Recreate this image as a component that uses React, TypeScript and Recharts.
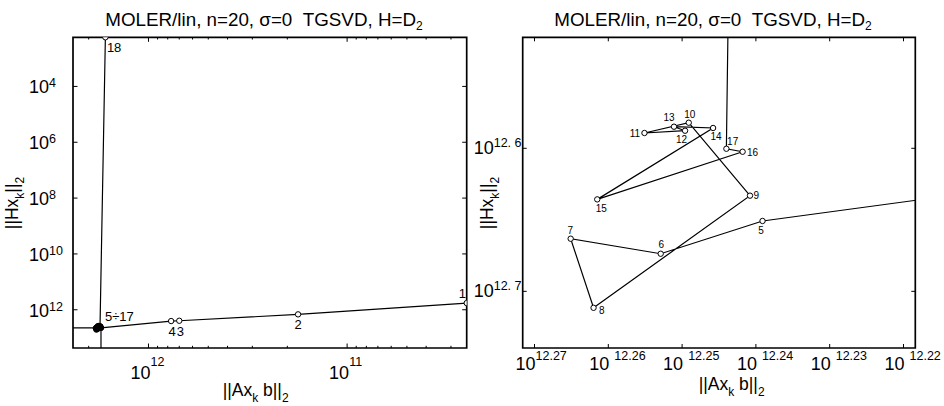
import React from 'react';
import { ComposedChart, Line, XAxis, YAxis, ReferenceArea } from 'recharts';

const FONT = '"Liberation Sans", Arial, Helvetica, sans-serif';

// TGSVD truncation index k
const kValues = [1, 2, 3, 4, 5, 6, 7, 8, 9, 10, 11, 12, 13, 14, 15, 16, 17, 18];
// log10 ||A x_k - b||_2
const residualExp = [
  10.398, 11.247, 11.845, 11.886, 12.2391, 12.2529, 12.2651, 12.262, 12.2408,
  12.2491, 12.2551, 12.2496, 12.2511, 12.2458, 12.2615, 12.2418, 12.244, 12.217,
];
// log10 ||H x_k||_2
const seminormExp = [
  11.76, 12.165, 12.394, 12.405, 12.6508, 12.6737, 12.6632, 12.7115, 12.6331,
  12.5821, 12.5893, 12.5877, 12.5849, 12.5858, 12.6357, 12.6024, 12.6003, 2.24,
];
// L-curve corner
const cornerK = 5;

// axis ranges, log10
const leftXRange = [10.398, 12.38];
const leftYRange = [2.24, 13.37];
const rightXRange = [12.2184, 12.2716];
const rightYRange = [12.5224, 12.7396];

// tick exponents / labels
const leftXMajorExp = [11, 12];
const leftXMinorMantissa = [2, 3, 4, 5, 6, 7, 8, 9];
const leftXMinorDecades = [10, 11, 12];
const leftYTickExp = [4, 6, 8, 10, 12];
const rightXTickExp = [12.27, 12.26, 12.25, 12.24, 12.23, 12.22];
const rightXTickBase = ['10', '10\u00a0', '10\u00a0', '10\u00a0', '10\u00a0', '10\u00a0'];
const rightXTickSup = ['12.27', '12.26', '12.25', '12.24', '12.23', '12.22'];
const rightYTickExp = [12.6, 12.7];
const rightYTickSup = ['12.\u00a06', '12.\u00a07'];

const titleMain = 'MOLER/lin, n=20, \u03c3=0 \u00a0TGSVD, H=D';

// label placement (style only)
type Lab = { text: string; dx: number; dy: number; anchor: 'start' | 'middle' | 'end' };
const leftLabels: Record<number, Lab> = {
  1: { text: '1', dx: -8, dy: -5, anchor: 'start' },
  2: { text: '2', dx: 0, dy: 15, anchor: 'middle' },
  3: { text: '3', dx: 1, dy: 15, anchor: 'middle' },
  4: { text: '4', dx: 1, dy: 15, anchor: 'middle' },
  5: { text: '5\u00f717', dx: 4, dy: -7, anchor: 'start' },
  18: { text: '18', dx: 1.5, dy: 15, anchor: 'start' },
};
const rightLabels: Record<number, Lab> = {
  5: { text: '5', dx: -1.5, dy: 13, anchor: 'middle' },
  6: { text: '6', dx: 0.7, dy: -5.5, anchor: 'middle' },
  7: { text: '7', dx: -0.3, dy: -5, anchor: 'middle' },
  8: { text: '8', dx: 5.4, dy: 6, anchor: 'start' },
  9: { text: '9', dx: 3.4, dy: 3.3, anchor: 'start' },
  10: { text: '10', dx: 1, dy: -5, anchor: 'middle' },
  11: { text: '11', dx: -4.4, dy: 3.7, anchor: 'end' },
  12: { text: '12', dx: -3.5, dy: 12, anchor: 'middle' },
  13: { text: '13', dx: -5, dy: -6, anchor: 'middle' },
  14: { text: '14', dx: 3, dy: 12, anchor: 'middle' },
  15: { text: '15', dx: 4, dy: 13, anchor: 'middle' },
  16: { text: '16', dx: 4.3, dy: 4.3, anchor: 'start' },
  17: { text: '17', dx: 0.7, dy: -3.7, anchor: 'start' },
};

const pow10 = (e: number) => Math.pow(10, e);
const points = kValues.map((k, i) => ({ k, x: pow10(residualExp[i]), y: pow10(seminormExp[i]) }));
const ci = kValues.indexOf(cornerK);
// corner marker: from left edge to the corner, then down to the bottom edge
const cornerLine = [
  { x: pow10(leftXRange[1]), y: pow10(seminormExp[ci]) },
  { x: pow10(residualExp[ci]), y: pow10(seminormExp[ci]) },
  { x: pow10(residualExp[ci]), y: pow10(leftYRange[1]) },
];

const leftXTicks = [
  ...leftXMajorExp.map(pow10),
  ...leftXMinorDecades.flatMap((d) => leftXMinorMantissa.map((m) => m * pow10(d))),
].filter((v) => Math.log10(v) >= leftXRange[0] && Math.log10(v) <= leftXRange[1]);

const CW = 472;
const CH = 406;
const PT = 37.3;
const PB = 348;
const leftPlot = { left: 73, right: 466.7 };
const rightPlot = { left: 50.7, right: 443.3 };
const SUP = 12.5;

const isMajor = (v: number) => Math.abs(Math.log10(v) - Math.round(Math.log10(v))) < 1e-6;

const LeftXTick = (p: any) => {
  const { x, payload } = p;
  const v = payload.value;
  const major = isMajor(v);
  const len = major ? 4.5 : 2.2;
  return (
    <g>
      <line x1={x} x2={x} y1={PB} y2={PB - len} stroke="#000" strokeWidth={1} />
      <line x1={x} x2={x} y1={PT} y2={PT + len} stroke="#000" strokeWidth={1} />
      {major && (
        <text x={x - 18} y={379} fontSize={18} fontFamily={FONT} fill="#000">
          10
          <tspan dy={-13} fontSize={SUP}>{Math.round(Math.log10(v))}</tspan>
        </text>
      )}
    </g>
  );
};

const LeftYTick = (p: any) => {
  const { y, payload } = p;
  const e = Math.round(Math.log10(payload.value));
  return (
    <g>
      <line x1={leftPlot.left} x2={leftPlot.left + 4.5} y1={y} y2={y} stroke="#000" strokeWidth={1} />
      <line x1={leftPlot.right} x2={leftPlot.right - 4.5} y1={y} y2={y} stroke="#000" strokeWidth={1} />
      <text x={29} y={y + 7} fontSize={18} fontFamily={FONT} fill="#000">
        10
        <tspan dy={-6} fontSize={SUP}>{e}</tspan>
      </text>
    </g>
  );
};

const RightXTick = (p: any) => {
  const { x, index } = p;
  return (
    <g>
      <line x1={x} x2={x} y1={PB} y2={PB - 4} stroke="#000" strokeWidth={1} />
      <line x1={x} x2={x} y1={PT} y2={PT + 4} stroke="#000" strokeWidth={1} />
      <text x={x - 19} y={370} fontSize={18} fontFamily={FONT} fill="#000">
        {rightXTickBase[index]}
        <tspan dy={-10} fontSize={SUP}>{rightXTickSup[index]}</tspan>
      </text>
    </g>
  );
};

const RightYTick = (p: any) => {
  const { y, index } = p;
  return (
    <g>
      <line x1={rightPlot.left} x2={rightPlot.left + 4} y1={y} y2={y} stroke="#000" strokeWidth={1} />
      <line x1={rightPlot.right} x2={rightPlot.right - 4} y1={y} y2={y} stroke="#000" strokeWidth={1} />
      <text x={1.7} y={y + 5.5} fontSize={18} fontFamily={FONT} fill="#000">
        10
        <tspan dy={-7} fontSize={SUP}>{rightYTickSup[index]}</tspan>
      </text>
    </g>
  );
};

const renderLeftDot = (p: any) => {
  const { cx, cy, index } = p;
  const k = kValues[index];
  const filled = k >= 5 && k <= 17;
  const lab = leftLabels[k];
  return (
    <g key={`ld-${index}`}>
      <circle cx={cx} cy={cy} r={2.7} fill={filled ? '#000' : '#fff'} stroke="#000" strokeWidth={1} />
      {lab && (
        <text x={cx + lab.dx} y={cy + lab.dy} textAnchor={lab.anchor} fontSize={13} fontFamily={FONT} fill="#000">
          {lab.text}
        </text>
      )}
    </g>
  );
};

const inRight = (i: number) =>
  residualExp[i] >= rightXRange[0] && residualExp[i] <= rightXRange[1] &&
  seminormExp[i] >= rightYRange[0] && seminormExp[i] <= rightYRange[1];

const renderRightDot = (p: any) => {
  const { cx, cy, index } = p;
  if (!inRight(index)) return <g key={`rd-${index}`} />;
  const lab = rightLabels[kValues[index]];
  return (
    <g key={`rd-${index}`}>
      <circle cx={cx} cy={cy} r={2.7} fill="#fff" stroke="#000" strokeWidth={1} />
      {lab && (
        <text x={cx + lab.dx} y={cy + lab.dy} textAnchor={lab.anchor} fontSize={10} fontFamily={FONT} fill="#000">
          {lab.text}
        </text>
      )}
    </g>
  );
};

const axisCommon = {
  type: 'number' as const,
  scale: 'log' as const,
  allowDataOverflow: true,
  axisLine: false,
  tickLine: false,
  tickSize: 0,
  tickMargin: 0,
  interval: 0 as const,
};

const LeftPanel = () => {
  const xd = [pow10(leftXRange[0]), pow10(leftXRange[1])];
  const yd = [pow10(leftYRange[0]), pow10(leftYRange[1])];
  return (
    <ComposedChart width={CW} height={CH} margin={{ top: PT, right: CW - leftPlot.right, bottom: CH - PB - 1, left: leftPlot.left - 1 }}>
      <XAxis {...axisCommon} dataKey="x" domain={xd} reversed ticks={leftXTicks} height={1} tick={LeftXTick} />
      <YAxis {...axisCommon} dataKey="y" domain={yd} reversed ticks={leftYTickExp.map(pow10)} width={1} tick={LeftYTick} />
      <ReferenceArea x1={xd[0]} x2={xd[1]} y1={yd[0]} y2={yd[1]} ifOverflow="visible" fill="none" stroke="#000" strokeWidth={1.7} fillOpacity={0} />
      <Line data={cornerLine} dataKey="y" type="linear" stroke="#000" strokeWidth={1.2} dot={false} activeDot={false} isAnimationActive={false} />
      <Line data={points} dataKey="y" type="linear" stroke="#000" strokeWidth={1.2} dot={renderLeftDot} activeDot={false} isAnimationActive={false} />
    </ComposedChart>
  );
};

const RightPanel = () => {
  const xd = [pow10(rightXRange[0]), pow10(rightXRange[1])];
  const yd = [pow10(rightYRange[0]), pow10(rightYRange[1])];
  return (
    <ComposedChart width={CW} height={CH} margin={{ top: PT, right: CW - rightPlot.right, bottom: CH - PB - 1, left: rightPlot.left - 1 }}>
      <XAxis {...axisCommon} dataKey="x" domain={xd} reversed ticks={rightXTickExp.map(pow10)} height={1} tick={RightXTick} />
      <YAxis {...axisCommon} dataKey="y" domain={yd} reversed ticks={rightYTickExp.map(pow10)} width={1} tick={RightYTick} />
      <ReferenceArea x1={xd[0]} x2={xd[1]} y1={yd[0]} y2={yd[1]} ifOverflow="visible" fill="none" stroke="#000" strokeWidth={1.7} fillOpacity={0} />
      <Line data={points} dataKey="y" type="linear" stroke="#000" strokeWidth={1.2} dot={renderRightDot} activeDot={false} isAnimationActive={false} />
    </ComposedChart>
  );
};

const AxisLabel = ({ main, sub, tail, x, y, rotate }: { main: string; sub: string; tail: string; x: number; y: number; rotate?: boolean }) => (
  <text
    x={rotate ? 0 : x}
    y={rotate ? 0 : y}
    transform={rotate ? `translate(${x},${y}) rotate(-90)` : undefined}
    textAnchor={rotate ? 'middle' : 'start'}
    fontSize={17.5}
  >
    {main}
    <tspan dy={6} fontSize={12}>{sub}</tspan>
    <tspan dy={-6}>{tail}</tspan>
    <tspan dy={6} fontSize={12}>2</tspan>
  </text>
);

export default function App() {
  return (
    <div style={{ position: 'absolute', left: 0, top: 0, width: 944, height: 406, background: '#fff' }}>
      <div style={{ position: 'absolute', left: 0, top: 0 }}>
        <LeftPanel />
      </div>
      <div style={{ position: 'absolute', left: 472, top: 0 }}>
        <RightPanel />
      </div>
      <svg width={944} height={406} style={{ position: 'absolute', left: 0, top: 0, pointerEvents: 'none' }}>
        <g fontFamily={FONT} fill="#000">
          <text x={264} y={26} textAnchor="middle" fontSize={18.8}>
            {titleMain}
            <tspan dy={4} fontSize={12}>2</tspan>
          </text>
          <text x={713} y={26} textAnchor="middle" fontSize={18.8}>
            {titleMain}
            <tspan dy={4} fontSize={12}>2</tspan>
          </text>
          <AxisLabel main="||Ax" sub="k" tail={'\u00a0b||'} x={222.7} y={396} />
          <AxisLabel main="||Ax" sub="k" tail={'\u00a0b||'} x={698.7} y={390} />
          <AxisLabel main="||Hx" sub="k" tail="||" x={18} y={203} rotate />
          <AxisLabel main="||Hx" sub="k" tail="||" x={493} y={203} rotate />
        </g>
      </svg>
    </div>
  );
}
